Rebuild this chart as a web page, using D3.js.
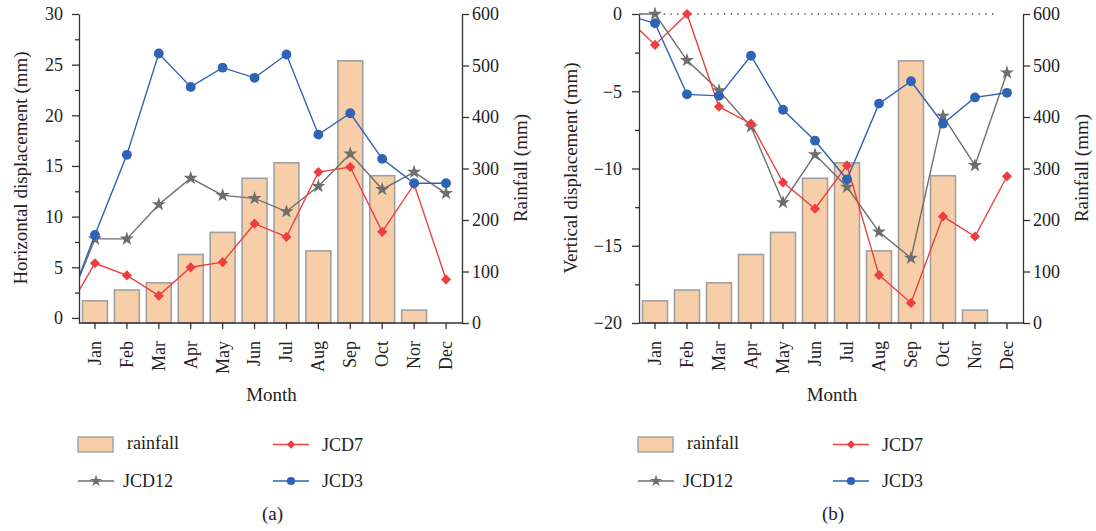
<!DOCTYPE html>
<html>
<head>
<meta charset="utf-8">
<script src="https://cdn.jsdelivr.net/npm/d3@7"></script>
<style>
  body { margin: 0; background: #fff; }
  svg text { font-family: "Liberation Serif", "Times New Roman", serif; fill: #222; }
</style>
</head>
<body>
<svg width="1096" height="531"></svg>
<script>
const months = ['Jan','Feb','Mar','Apr','May','Jun','Jul','Aug','Sep','Oct','Nor','Dec']
const rainfall = [43, 64, 78, 133, 176, 281, 311, 140, 509, 286, 25, 0]

// (a) horizontal displacement
const hJCD12 = [7.8, 7.8, 11.2, 13.8, 12.1, 11.8, 10.5, 13.0, 16.2, 12.7, 14.4, 12.3]
const hJCD7 = [5.4, 4.2, 2.2, 5.0, 5.5, 9.3, 8.0, 14.4, 14.9, 8.5, 13.2, 3.8]
const hJCD3 = [8.2, 16.1, 26.1, 22.8, 24.7, 23.7, 26.0, 18.1, 20.2, 15.7, 13.3, 13.3]

// (b) vertical displacement
const vJCD12 = [0, -3.0, -4.95, -7.3, -12.2, -9.1, -11.2, -14.1, -15.8, -6.6, -9.8, -3.8]
const vJCD7 = [-2.0, 0, -6.0, -7.1, -10.9, -12.6, -9.8, -16.9, -18.7, -13.1, -14.4, -10.5]
const vJCD3 = [-0.6, -5.2, -5.3, -2.7, -6.2, -8.2, -10.7, -5.8, -4.35, -7.1, -5.4, -5.1]

// every line starts from 0 one step before Jan (cut off at the axis)
const startValue = 0

const hTicks = [0, 5, 10, 15, 20, 25, 30]
const vTicks = [-20, -15, -10, -5, 0]
const rainTicks = [0, 100, 200, 300, 400, 500, 600]

const svg = d3.select('svg')
const plotTop = 14, plotBottom = 323
const serif = '"Liberation Serif", "Times New Roman", serif'

const colors = { JCD12: '#6e6e6e', JCD7: '#ec4040', JCD3: '#2f63b6' }
const symbols = {
    JCD12: { type: d3.symbolStar, size: 62, rot: 0 },
    JCD7: { type: d3.symbolSquare, size: 52, rot: 45 },
    JCD3: { type: d3.symbolCircle, size: 76, rot: 0 }
}

const panel = (cfg) => {
    const x = d3.scaleBand().domain(months).range([cfg.x0, cfg.x1])
        .paddingInner(0.22).paddingOuter(0.11)
    const cx = m => x(m) + x.bandwidth() / 2
    const y = d3.scaleLinear().domain(cfg.yDomain).range([plotBottom, plotTop])
    const yR = d3.scaleLinear().domain([0, 600]).range([plotBottom, plotTop])

    const clipId = 'clip' + cfg.id
    svg.append('clipPath').attr('id', clipId)
        .append('rect').attr('x', cfg.x0).attr('y', 0)
        .attr('width', cfg.x1 - cfg.x0).attr('height', plotBottom)

    // bars
    svg.append('g').selectAll('rect')
        .data(months.map((m, i) => ({ m, v: rainfall[i] })).filter(d => d.v > 0))
        .enter().append('rect')
            .attr('x', d => x(d.m))
            .attr('y', d => yR(d.v))
            .attr('width', x.bandwidth())
            .attr('height', d => yR(0) - yR(d.v))
            .attr('fill', '#f8cea8')
            .attr('stroke', '#a0a0a0')
            .attr('stroke-width', 1.6)

    if (cfg.zeroLine) {
        svg.append('line')
            .attr('x1', cx('Jan') + 2).attr('x2', cx('Dec') - 10)
            .attr('y1', y(0)).attr('y2', y(0))
            .attr('stroke', '#444').attr('stroke-width', 1.3)
            .attr('stroke-dasharray', '1.3,5.4')
    }

    const line = d3.line().x(d => d.x).y(d => y(d.v))
    cfg.series.forEach(s => {
        const pts = [{ x: cx('Jan') - x.step(), v: startValue }]
            .concat(months.map((m, i) => ({ x: cx(m), v: s.values[i] })))
        const g = svg.append('g').attr('clip-path', `url(#${clipId})`)
        g.append('path').datum(pts)
            .attr('d', line)
            .attr('fill', 'none')
            .attr('stroke', colors[s.name])
            .attr('stroke-width', 1.4)
        const sym = symbols[s.name]
        svg.append('g').selectAll('path')
            .data(pts.slice(1))
            .enter().append('path')
                .attr('d', d3.symbol().type(sym.type).size(sym.size))
                .attr('transform', d => `translate(${d.x},${y(d.v)}) rotate(${sym.rot})`)
                .attr('fill', colors[s.name])
    })

    // axes
    const styleAxis = g => {
        g.selectAll('path, line').attr('stroke', '#333').attr('stroke-width', 1.3)
        g.selectAll('text').attr('fill', '#222')
            .style('font-family', serif).style('font-size', '18px')
    }

    svg.append('g')
        .attr('transform', `translate(0,${plotBottom})`)
        .call(d3.axisBottom(x).tickSize(6).tickSizeOuter(0))
        .call(styleAxis)
        .call(g => g.select('.domain').attr('d', `M${cfg.x0},0H${cfg.x1}`))
        .call(g => g.selectAll('text')
            .attr('transform', 'rotate(-90)')
            .attr('text-anchor', 'end')
            .attr('x', -18).attr('y', 0).attr('dy', '0.33em'))

    svg.append('g')
        .attr('transform', `translate(${cfg.x0},0)`)
        .call(d3.axisLeft(y).tickValues(cfg.ticks).tickSize(7).tickPadding(cfg.padL).tickSizeOuter(0))
        .call(styleAxis)
    svg.append('g')
        .attr('transform', `translate(${cfg.x0},0)`)
        .call(d3.axisLeft(y).tickValues(cfg.ticks.slice(1).map(t => t - 2.5)).tickSize(4).tickFormat(''))
        .call(styleAxis)
        .call(g => g.select('.domain').remove())

    svg.append('g')
        .attr('transform', `translate(${cfg.x1},0)`)
        .call(d3.axisRight(yR).tickValues(rainTicks).tickSize(7).tickPadding(3).tickSizeOuter(0))
        .call(styleAxis)

    // titles
    svg.append('text')
        .attr('transform', `translate(${cfg.titleX},168) rotate(-90)`)
        .attr('text-anchor', 'middle').style('font-size', '19px')
        .text(cfg.title)
    svg.append('text')
        .attr('transform', `translate(${cfg.x1 + 65},168) rotate(-90)`)
        .attr('text-anchor', 'middle').style('font-size', '19px')
        .text('Rainfall (mm)')
    svg.append('text')
        .attr('x', (cfg.x0 + cfg.x1) / 2 + 1).attr('y', 401)
        .attr('text-anchor', 'middle').style('font-size', '19px')
        .text('Month')

    // legend
    const lx = cfg.x0
    const leg = svg.append('g')
    leg.append('rect')
        .attr('x', lx - 1).attr('y', 437).attr('width', 35).attr('height', 15)
        .attr('fill', '#f8cea8').attr('stroke', '#a0a0a0').attr('stroke-width', 1.4)
    leg.append('text').attr('x', lx + 48).attr('y', 449)
        .style('font-family', serif).style('font-size', '18px').text('rainfall')
    const items = [
        { name: 'JCD7', x: lx + 194, y: 444.5, tx: lx + 243 },
        { name: 'JCD12', x: lx - 1, y: 481, tx: lx + 44 },
        { name: 'JCD3', x: lx + 194, y: 481, tx: lx + 243 }
    ]
    items.forEach(it => {
        leg.append('line')
            .attr('x1', it.x).attr('x2', it.x + 36)
            .attr('y1', it.y).attr('y2', it.y)
            .attr('stroke', colors[it.name]).attr('stroke-width', 1.4)
        const sym = symbols[it.name]
        leg.append('path')
            .attr('d', d3.symbol().type(sym.type).size(sym.size * 0.7))
            .attr('transform', `translate(${it.x + 18},${it.y}) rotate(${sym.rot})`)
            .attr('fill', colors[it.name])
        leg.append('text').attr('x', it.tx).attr('y', it.y + 6)
            .style('font-family', serif).style('font-size', '18px').text(it.name)
    })
    svg.append('text')
        .attr('x', (cfg.x0 + cfg.x1) / 2 + 2).attr('y', 520)
        .attr('text-anchor', 'middle').style('font-size', '19px')
        .text(cfg.label)
}

panel({
    id: 'a', x0: 79, x1: 462, yDomain: [-0.5, 30], ticks: hTicks, padL: 9,
    title: 'Horizontal displacement (mm)', titleX: 27, label: '(a)',
    series: [
        { name: 'JCD12', values: hJCD12 },
        { name: 'JCD7', values: hJCD7 },
        { name: 'JCD3', values: hJCD3 }
    ]
})

panel({
    id: 'b', x0: 639, x1: 1023, yDomain: [-20, 0], ticks: vTicks, padL: 10, zeroLine: true,
    title: 'Vertical displacement (mm)', titleX: 577, label: '(b)',
    series: [
        { name: 'JCD12', values: vJCD12 },
        { name: 'JCD7', values: vJCD7 },
        { name: 'JCD3', values: vJCD3 }
    ]
})
</script>
</body>
</html>
